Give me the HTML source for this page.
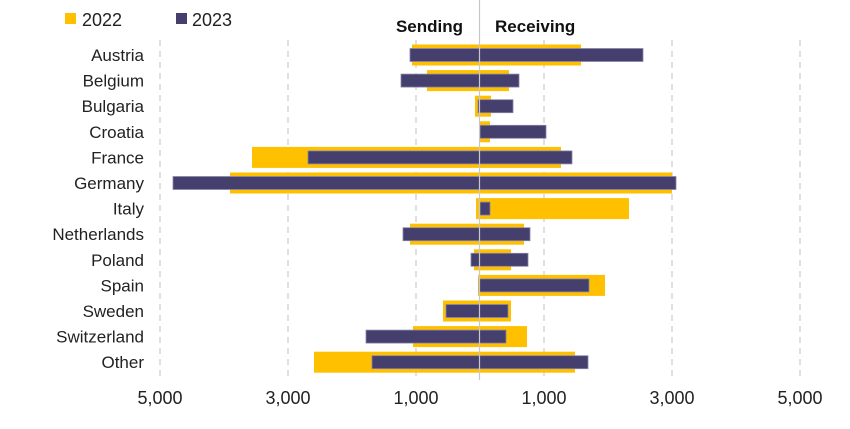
<!DOCTYPE html><html><head><style>body{margin:0;background:#fff}text{font-family:"Liberation Sans",sans-serif}</style></head><body>
<svg width="850" height="424" xmlns="http://www.w3.org/2000/svg">
<g stroke="#ccc" stroke-dasharray="6,5" stroke-width="1.2">
<line x1="160" y1="40" x2="160" y2="378"/><line x1="288" y1="40" x2="288" y2="378"/><line x1="416" y1="40" x2="416" y2="378"/><line x1="544" y1="40" x2="544" y2="378"/><line x1="672" y1="40" x2="672" y2="378"/><line x1="800" y1="40" x2="800" y2="378"/></g>
<g id="bars"></g>
<line x1="479.5" y1="0" x2="479.5" y2="380" stroke="#c8c8c8" stroke-width="1.2"/>
<rect x="65" y="13" width="11" height="11" fill="#FFC000"/><text x="82" y="26" font-size="18" fill="#222">2022</text>
<rect x="176" y="13" width="11" height="11" fill="#453F6E"/><text x="192" y="26" font-size="18" fill="#222">2023</text>
<text x="463" y="32" font-size="17" font-weight="bold" text-anchor="end" fill="#111">Sending</text>
<text x="495" y="32" font-size="17" font-weight="bold" fill="#111">Receiving</text>
<g font-size="17" fill="#222" text-anchor="end" id="labels"></g>
<g font-size="18" fill="#222" text-anchor="middle">
<text x="160" y="404">5,000</text><text x="288" y="404">3,000</text><text x="416" y="404">1,000</text><text x="544" y="404">1,000</text><text x="672" y="404">3,000</text><text x="800" y="404">5,000</text></g>
</svg>
<script>
var d=[["Austria",412,581,410,643],["Belgium",427,509,401,519],["Bulgaria",475,491,478,513],["Croatia",479,490,480,546],["France",252,561,308,572],["Germany",230,672,173,676],["Italy",476,629,480,490],["Netherlands",410,524,403,530],["Poland",474,511,471,528],["Spain",478,605,479,589],["Sweden",443,511,446,508],["Switzerland",413,527,366,506],["Other",314,575,372,588]];
var ns="http://www.w3.org/2000/svg",b=document.getElementById("bars"),l=document.getElementById("labels");
d.forEach(function(r,i){var y=55+i*25.6;
function R(x1,x2,h,f,s){var e=document.createElementNS(ns,"rect");e.setAttribute("x",x1);e.setAttribute("width",x2-x1);e.setAttribute("y",y-h/2);e.setAttribute("height",h);e.setAttribute("fill",f);if(s){e.setAttribute("stroke",s);e.setAttribute("stroke-width","0.8")}b.appendChild(e);}
R(r[1],r[2],21,"#FFC000");R(r[3],r[4],13,"#453F6E","#8a85aa");
var t=document.createElementNS(ns,"text");t.setAttribute("x",144);t.setAttribute("y",y+6);t.textContent=r[0];l.appendChild(t);});
</script>
</body></html>
